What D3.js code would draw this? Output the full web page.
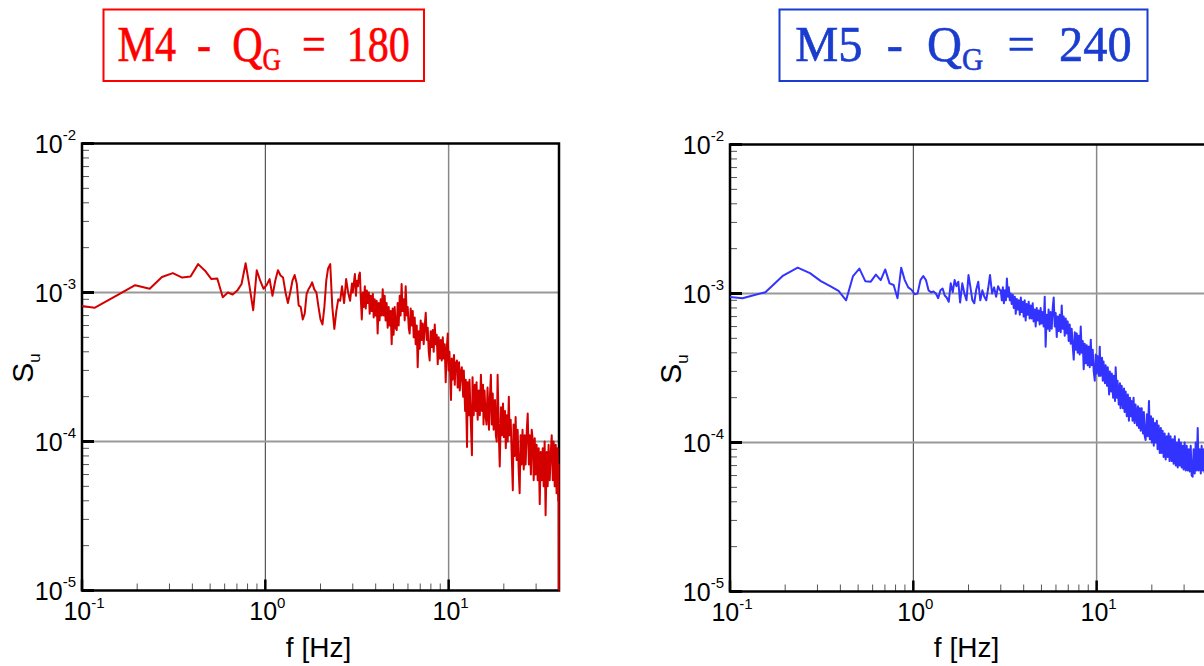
<html>
<head>
<meta charset="utf-8">
<title>Su spectra</title>
<style>
  body { margin: 0; background: #fff; }
  text { font-family: "Liberation Sans", Arial, sans-serif; }
  .title text { font-family: "Liberation Serif", "DejaVu Serif", serif; }
</style>
</head>
<body>
<script src="https://cdn.jsdelivr.net/npm/d3@7"></script>
<script>
// frequency grid [Hz], shared by both runs (coarse below 3 Hz, fine above)
var freq = [
  0.078, 0.117, 0.156, 0.195, 0.234, 0.273, 0.313, 0.352, 0.391, 0.430,
  0.469, 0.508, 0.547, 0.586, 0.625, 0.664, 0.703, 0.742, 0.781, 0.820,
  0.859, 0.898, 0.938, 0.977, 1.016, 1.055, 1.094, 1.133, 1.172, 1.211,
  1.250, 1.289, 1.328, 1.367, 1.406, 1.445, 1.484, 1.52, 1.56, 1.60,
  1.64, 1.68, 1.72, 1.76, 1.80, 1.85, 1.90, 1.95, 2.00, 2.05,
  2.10, 2.15, 2.20, 2.26, 2.32, 2.38, 2.44, 2.50, 2.56, 2.62,
  2.69, 2.76, 2.83, 2.90, 2.97,
  3.00, 3.04, 3.08, 3.12, 3.16, 3.20, 3.24, 3.28, 3.32, 3.36,
  3.40, 3.44, 3.49, 3.53, 3.58, 3.62, 3.67, 3.71, 3.76, 3.81,
  3.86, 3.90, 3.95, 4.00, 4.05, 4.10, 4.15, 4.20, 4.26, 4.31,
  4.37, 4.42, 4.48, 4.53, 4.59, 4.65, 4.71, 4.77, 4.83, 4.89,
  4.95, 5.01, 5.08, 5.14, 5.21, 5.27, 5.34, 5.41, 5.47, 5.54,
  5.61, 5.69, 5.76, 5.83, 5.91, 5.98, 6.06, 6.13, 6.21, 6.29,
  6.37, 6.45, 6.53, 6.61, 6.70, 6.78, 6.87, 6.95, 7.04, 7.13,
  7.22, 7.31, 7.41, 7.50, 7.60, 7.69, 7.79, 7.88, 7.98, 8.08,
  8.19, 8.29, 8.40, 8.50, 8.61, 8.72, 8.83, 8.94, 9.06, 9.17,
  9.29, 9.40, 9.52, 9.64, 9.77, 9.89, 10.0, 10.1, 10.3, 10.4,
  10.5, 10.7, 10.8, 10.9, 11.1, 11.2, 11.4, 11.5, 11.7, 11.8,
  12.0, 12.1, 12.3, 12.4, 12.6, 12.7, 12.9, 13.0, 13.2, 13.4,
  13.5, 13.7, 13.9, 14.1, 14.2, 14.4, 14.6, 14.8, 15.0, 15.2,
  15.4, 15.5, 15.7, 15.9, 16.1, 16.3, 16.6, 16.8, 17.0, 17.2,
  17.4, 17.6, 17.9, 18.1, 18.3, 18.5, 18.8, 19.0, 19.3, 19.5,
  19.8, 20.0, 20.3, 20.5, 20.8, 21.0, 21.3, 21.5, 21.8, 22.1,
  22.4, 22.6, 22.9, 23.2, 23.5, 23.8, 24.1, 24.4, 24.7, 25.0,
  25.3, 25.7, 26.0, 26.3, 26.7, 27.0, 27.4, 27.7, 28.1, 28.4,
  28.8, 29.1, 29.5, 29.8, 30.2, 30.6, 31.0, 31.4, 31.8, 32.2,
  32.6, 33.0, 33.4, 33.8, 34.3, 34.7, 35.1, 35.6, 36.0, 36.5,
  37.0, 37.4, 37.9, 38.4, 38.8, 39.3, 39.6, 39.8, 40.0
];

// S_u for run M4 (Q_G = 180)
var su_m4 = [
  8.5e-4, 7.9e-4, 9.6e-4, 1.12e-3, 1.06e-3, 1.27e-3, 1.35e-3, 1.26e-3, 1.28e-3, 1.55e-3,
  1.40e-3, 1.23e-3, 1.24e-3, 9.3e-4, 1.0e-3, 9.7e-4, 1.03e-3, 1.14e-3, 1.57e-3, 1.1e-3,
  7.6e-4, 1.41e-3, 1.2e-3, 1.06e-3, 1.12e-3, 1.23e-3, 9.5e-4, 1.2e-3, 1.41e-3, 1.3e-3,
  1.26e-3, 1.0e-3, 8.5e-4, 1.0e-3, 1.2e-3, 1.31e-3, 1.15e-3, 8.2e-4, 8.0e-4, 6.6e-4,
  7.2e-4, 9.8e-4, 1.05e-3, 1.1e-3, 1.17e-3, 1.05e-3, 1.0e-3, 8.0e-4, 6.6e-4, 6.1e-4,
  8.0e-4, 1.2e-3, 1.45e-3, 1.55e-3, 8.0e-4, 5.7e-4, 7.5e-4, 9.0e-4, 8.8e-4, 1.1e-3,
  8.5e-4, 1.23e-3, 1.0e-3, 8.8e-4, 1.15e-3,
  1.0e-3, 1.15e-3, 1.33e-3, 9.5e-4, 1.2e-3, 1.1e-3, 1.3e-3, 1.36e-3, 9.0e-4, 6.6e-4,
  1.0e-3, 8.0e-4, 1.1e-3, 7.8e-4, 1.03e-3, 8.5e-4, 1.0e-3, 7.2e-4, 9.5e-4, 7.5e-4,
  9.8e-4, 6.8e-4, 9.0e-4, 7.0e-4, 8.8e-4, 5.3e-4, 8.5e-4, 6.5e-4, 9.0e-4, 7.0e-4,
  1.05e-3, 7.0e-4, 9.5e-4, 6.5e-4, 8.5e-4, 5.8e-4, 8.0e-4, 6.0e-4, 7.5e-4, 4.5e-4,
  7.8e-4, 5.2e-4, 8.0e-4, 5.8e-4, 5.6e-4, 8.5e-4, 6.0e-4, 9.5e-4, 7.0e-4, 1.14e-3,
  7.5e-4, 9.0e-4, 6.5e-4, 1.1e-3, 7.0e-4, 8.0e-4, 5.8e-4, 5.3e-4, 7.8e-4, 6.0e-4,
  7.5e-4, 5.0e-4, 6.8e-4, 4.5e-4, 6.0e-4, 3.15e-4, 5.5e-4, 4.2e-4, 6.5e-4, 4.8e-4,
  6.2e-4, 4.5e-4, 6.0e-4, 7.3e-4, 4.8e-4, 5.8e-4, 4.0e-4, 3.5e-4, 5.5e-4, 4.3e-4,
  5.6e-4, 4.0e-4, 6.1e-4, 4.5e-4, 5.2e-4, 3.3e-4, 5.0e-4, 3.6e-4, 4.8e-4, 3.5e-4,
  5.0e-4, 3.6e-4, 4.5e-4, 2.5e-4, 4.2e-4, 5.3e-4, 3.0e-4, 4.0e-4, 1.9e-4, 3.6e-4,
  2.6e-4, 3.8e-4, 2.4e-4, 3.3e-4, 3.5e-4, 2.3e-4, 3.4e-4, 2.2e-4, 3.0e-4, 3.15e-4,
  2.0e-4, 3.0e-4, 1.6e-4, 2.6e-4, 9.2e-5, 2.5e-4, 1.5e-4, 2.6e-4, 1.4e-4, 8.1e-5,
  2.7e-4, 1.5e-4, 2.4e-4, 1.6e-4, 2.5e-4, 1.4e-4, 2.2e-4, 1.5e-4, 2.8e-4, 1.6e-4,
  2.4e-4, 1.3e-4, 2.2e-4, 1.5e-4, 1.3e-4, 2.3e-4, 1.2e-4, 2.0e-4, 2.8e-4, 1.3e-4,
  2.1e-4, 1.2e-4, 1.9e-4, 1.1e-4, 1.0e-4, 2.8e-4, 1.1e-4, 6.8e-5, 1.7e-4, 1.1e-4,
  1.8e-4, 1.07e-4, 1.6e-4, 9.0e-5, 1.5e-4, 1.0e-4, 2.0e-4, 1.1e-4, 1.4e-4, 8.0e-5,
  4.7e-5, 1.3e-4, 8.0e-5, 1.46e-4, 7.5e-5, 1.2e-4, 6.5e-5, 4.5e-5, 1.1e-4, 7.0e-5,
  1.2e-4, 6.5e-5, 1.1e-4, 7.0e-5, 1.2e-4, 1.54e-4, 7.0e-5, 1.1e-4, 6.0e-5, 1.2e-4,
  1.0e-4, 5.5e-5, 1.05e-4, 6.0e-5, 9.5e-5, 5.5e-5, 9.0e-5, 3.8e-5, 8.5e-5, 5.5e-5,
  9.0e-5, 5.0e-5, 1.0e-4, 3.2e-5, 8.5e-5, 5.0e-5, 9.5e-5, 5.5e-5, 8.0e-5, 1.1e-4,
  5.5e-5, 1.0e-4, 5.0e-5, 9.5e-5, 4.5e-5, 9.0e-5, 4.0e-5, 7.0e-5, 1.0e-6
];

// S_u for run M5 (Q_G = 240)
var su_m5 = [
  9.8e-4, 9.3e-4, 1.02e-3, 1.32e-3, 1.49e-3, 1.37e-3, 1.21e-3, 1.12e-3, 1.04e-3, 9.0e-4,
  1.31e-3, 1.47e-3, 1.21e-3, 1.20e-3, 1.34e-3, 1.23e-3, 1.45e-3, 1.17e-3, 1.14e-3, 9.3e-4,
  1.49e-3, 1.23e-3, 1.10e-3, 1.06e-3, 9.9e-4, 1.0e-3, 1.23e-3, 1.31e-3, 1.23e-3, 1.05e-3,
  1.02e-3, 1.03e-3, 1.0e-3, 9.3e-4, 1.05e-3, 1.08e-3, 9.7e-4, 9.4e-4, 8.8e-4, 1.17e-3,
  1.02e-3, 1.23e-3, 1.12e-3, 1.2e-3, 8.7e-4, 1.17e-3, 1.0e-3, 9.0e-4, 1.33e-3, 1.1e-3,
  9.0e-4, 8.6e-4, 1.05e-3, 1.2e-3, 9.0e-4, 1.05e-3, 9.5e-4, 9.0e-4, 1.08e-3, 1.33e-3,
  1.0e-3, 1.1e-3, 9.5e-4, 1.12e-3, 1.05e-3,
  1.05e-3, 9.0e-4, 1.1e-3, 8.6e-4, 1.05e-3, 9.0e-4, 1.26e-3, 9.5e-4, 1.1e-3, 9.0e-4,
  1.0e-3, 8.5e-4, 9.8e-4, 8.0e-4, 9.5e-4, 7.3e-4, 9.2e-4, 7.8e-4, 9.0e-4, 7.2e-4,
  9.4e-4, 7.5e-4, 8.8e-4, 7.0e-4, 9.0e-4, 6.6e-4, 8.5e-4, 7.2e-4, 8.8e-4, 6.8e-4,
  8.3e-4, 6.8e-4, 8.6e-4, 6.5e-4, 7.8e-4, 6.0e-4, 8.0e-4, 6.6e-4, 7.7e-4, 6.2e-4,
  8.0e-4, 6.3e-4, 7.5e-4, 6.0e-4, 9.5e-4, 4.4e-4, 7.2e-4, 5.8e-4, 7.8e-4, 5.6e-4,
  7.5e-4, 5.8e-4, 8.0e-4, 9.4e-4, 6.0e-4, 7.4e-4, 5.1e-4, 7.0e-4, 5.6e-4, 7.2e-4,
  5.5e-4, 8.3e-4, 5.8e-4, 7.0e-4, 5.2e-4, 6.8e-4, 5.4e-4, 6.5e-4, 4.8e-4, 6.2e-4,
  4.6e-4, 5.8e-4, 4.4e-4, 3.6e-4, 5.5e-4, 4.2e-4, 5.4e-4, 4.0e-4, 5.2e-4, 3.9e-4,
  6.0e-4, 4.0e-4, 4.8e-4, 3.1e-4, 4.6e-4, 3.4e-4, 4.5e-4, 3.3e-4, 4.4e-4, 3.2e-4,
  4.9e-4, 3.3e-4, 4.2e-4, 3.0e-4, 2.6e-4, 3.9e-4, 2.9e-4, 3.8e-4, 2.8e-4, 4.4e-4,
  2.8e-4, 3.7e-4, 2.6e-4, 3.5e-4, 2.5e-4, 3.3e-4, 2.4e-4, 3.2e-4, 2.1e-4, 3.0e-4,
  2.2e-4, 2.9e-4, 2.0e-4, 2.8e-4, 1.9e-4, 3.2e-4, 2.0e-4, 2.6e-4, 1.8e-4, 2.5e-4,
  1.7e-4, 2.4e-4, 1.7e-4, 2.3e-4, 1.6e-4, 2.2e-4, 1.5e-4, 2.1e-4, 1.4e-4, 2.0e-4,
  1.5e-4, 1.9e-4, 1.4e-4, 2.0e-4, 1.35e-4, 1.8e-4, 1.3e-4, 1.75e-4, 1.25e-4, 1.7e-4,
  1.2e-4, 1.7e-4, 1.15e-4, 1.6e-4, 1.1e-4, 1.04e-4, 1.55e-4, 1.1e-4, 1.9e-4, 1.05e-4,
  1.5e-4, 1.0e-4, 1.45e-4, 9.5e-5, 1.35e-4, 1.0e-4, 1.4e-4, 9.0e-5, 1.3e-4, 8.5e-5,
  1.25e-4, 8.5e-5, 1.2e-4, 8.0e-5, 1.15e-4, 7.7e-5, 1.1e-4, 8.0e-5, 1.15e-4, 7.5e-5,
  1.1e-4, 7.5e-5, 1.05e-4, 7.2e-5, 1.1e-4, 7.0e-5, 1.0e-4, 6.8e-5, 1.05e-4, 7.0e-5,
  1.0e-4, 6.8e-5, 9.5e-5, 6.6e-5, 1.0e-4, 6.5e-5, 9.5e-5, 6.5e-5, 9.0e-5, 6.4e-5,
  9.5e-5, 6.0e-5, 5.9e-5, 9.0e-5, 6.2e-5, 1.0e-4, 6.5e-5, 1.25e-4, 6.5e-5, 9.0e-5,
  6.2e-5, 9.5e-5, 6.5e-5, 9.0e-5, 6.3e-5, 8.8e-5, 6.5e-5, 8.5e-5, 7.5e-5
];

var runs = ["M4", "M5"];
var qg = [180, 240];
var xExp = [-1, 0, 1];
var yExp = [-5, -4, -3, -2];

var W = 477, H = 447;

var svg = d3.select("body").append("svg")
    .attr("width", 1204)
    .attr("height", 666);

var x = d3.scaleLog().domain([0.1, 40]).range([0, W]);
var y = d3.scaleLog().domain([1e-5, 1e-2]).range([H, 0]);

function isPow10(v) {
    var l = Math.log10(v);
    return Math.abs(l - Math.round(l)) < 1e-9;
}

function drawPanel(i, ox, oy, values, color, title) {
    var g = svg.append("g").attr("transform", `translate(${ox},${oy})`);

    // title box
    var tg = svg.append("g").attr("class", "title");
    tg.append("rect")
        .attr("x", title.bx).attr("y", 9.5)
        .attr("width", title.bw).attr("height", 71.5)
        .attr("fill", "none")
        .attr("stroke", title.color)
        .attr("stroke-width", 2);
    var t = tg.append("text")
        .attr("transform", `translate(${title.bx + title.bw / 2},61) scale(${title.sx},1)`)
        .attr("text-anchor", "middle")
        .attr("xml:space", "preserve")
        .style("white-space", "pre")
        .attr("font-size", 51)
        .attr("fill", title.color)
        .attr("stroke", title.color)
        .attr("stroke-width", 0.6);
    t.append("tspan").text(runs[i] + "  -  Q");
    t.append("tspan").attr("font-size", 31).attr("dy", 9).text("G");
    t.append("tspan").attr("dy", -9).text("  =  " + qg[i]);

    var xt = x.ticks();
    var yt = y.ticks();

    // grid
    g.append("g").selectAll("line")
        .data(xt.filter(d => isPow10(d) && d > 0.1 && d < 40))
        .join("line")
        .attr("x1", d => x(d)).attr("x2", d => x(d))
        .attr("y1", 0).attr("y2", H)
        .attr("stroke", d => d < 5 ? "#333" : "#888")
        .attr("stroke-width", d => d < 5 ? 1 : 1.5);
    g.append("g").selectAll("line")
        .data(yt.filter(d => isPow10(d) && d > 1e-5 && d < 1e-2))
        .join("line")
        .attr("x1", 0).attr("x2", W)
        .attr("y1", d => y(d)).attr("y2", d => y(d))
        .attr("stroke", "#999")
        .attr("stroke-width", 2);

    // minor ticks
    g.append("g").selectAll("line")
        .data(xt.filter(d => !isPow10(d)))
        .join("line")
        .attr("x1", d => x(d)).attr("x2", d => x(d))
        .attr("y1", H).attr("y2", H - 7)
        .attr("stroke", "#555").attr("stroke-width", 1);
    g.append("g").selectAll("line")
        .data(yt.filter(d => !isPow10(d)))
        .join("line")
        .attr("x1", 0).attr("x2", 7)
        .attr("y1", d => y(d)).attr("y2", d => y(d))
        .attr("stroke", "#555").attr("stroke-width", 1);

    // major ticks
    g.append("g").selectAll("line")
        .data(xExp.map(e => Math.pow(10, e)))
        .join("line")
        .attr("x1", d => x(d)).attr("x2", d => x(d))
        .attr("y1", H).attr("y2", H - 11)
        .attr("stroke", "#000").attr("stroke-width", 2.5);
    g.append("g").selectAll("line")
        .data(yExp.map(e => Math.pow(10, e)))
        .join("line")
        .attr("x1", 0).attr("x2", 12)
        .attr("y1", d => y(d)).attr("y2", d => y(d))
        .attr("stroke", "#000").attr("stroke-width", 3);

    // frame
    g.append("rect")
        .attr("width", W).attr("height", H)
        .attr("fill", "none")
        .attr("stroke", "#000")
        .attr("stroke-width", 2.5);

    // data
    var clipId = "clip" + i;
    g.append("clipPath").attr("id", clipId)
        .append("rect").attr("x", 0).attr("y", 0).attr("width", W + 1).attr("height", H);
    var line = d3.line()
        .x((d, k) => x(freq[k]))
        .y(d => y(d));
    g.append("path")
        .datum(values)
        .attr("clip-path", `url(#${clipId})`)
        .attr("fill", "none")
        .attr("stroke", color)
        .attr("stroke-width", 2)
        .attr("stroke-linejoin", "round")
        .attr("d", line);

    // tick labels
    var yl = g.append("g").selectAll("text")
        .data(yExp)
        .join("text")
        .attr("x", -6)
        .attr("y", d => y(Math.pow(10, d)) + 9)
        .attr("text-anchor", "end")
        .attr("font-size", 25);
    yl.append("tspan").text("10");
    yl.append("tspan").attr("font-size", 15).attr("dy", -13).text(d => d);

    var xl = g.append("g").selectAll("text")
        .data(xExp)
        .join("text")
        .attr("x", d => x(Math.pow(10, d)) + 2)
        .attr("y", H + 29)
        .attr("text-anchor", "middle")
        .attr("font-size", 25);
    xl.append("tspan").text("10");
    xl.append("tspan").attr("font-size", 15).attr("dy", -12).text(d => d);

    // axis titles
    g.append("text")
        .attr("x", W / 2 - 2)
        .attr("y", 657 - oy)
        .attr("text-anchor", "middle")
        .attr("font-size", 28)
        .text("f [Hz]");
    var yt2 = g.append("text")
        .attr("transform", `translate(-49,${H / 2 + 1}) rotate(-90)`)
        .attr("text-anchor", "middle")
        .attr("font-size", 30);
    yt2.append("tspan").text("S");
    yt2.append("tspan").attr("font-size", 17).attr("dy", 7).text("u");
}

if (su_m4.length !== freq.length || su_m5.length !== freq.length) {
    console.error("length mismatch", freq.length, su_m4.length, su_m5.length);
}

drawPanel(0, 82, 143.5, su_m4, "#d40000", {bx: 103.5, bw: 320.5, sx: 0.825, color: "#ff0000"});
drawPanel(1, 730, 144.5, su_m5, "#3333ff", {bx: 779.5, bw: 368, sx: 0.95, color: "#1a3ccf"});
</script>
</body>
</html>
